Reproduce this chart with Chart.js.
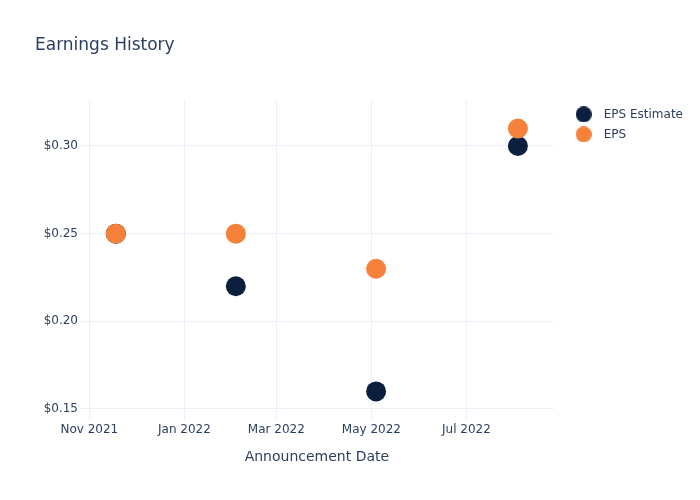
<!DOCTYPE html>
<html>
<head>
<meta charset="utf-8">
<script src="https://cdn.jsdelivr.net/npm/chart.js@4"></script>
<style>
	body { margin: 0; background: #fff; }
</style>
</head>
<body>
<canvas id="myChart" width="700" height="500"></canvas>
<script>
const dates = ["2021-11-18", "2022-02-03", "2022-05-04", "2022-08-03"];
const epsEstimate = [0.25, 0.22, 0.16, 0.30];
const eps = [0.25, 0.25, 0.23, 0.31];
const yTicks = [0.15, 0.20, 0.25, 0.30];
const xTicks = ["2021-11-01", "2022-01-01", "2022-03-01", "2022-05-01", "2022-07-01"];
const MONTHS = ["Jan", "Feb", "Mar", "Apr", "May", "Jun", "Jul", "Aug", "Sep", "Oct", "Nov", "Dec"];

const TEXT = "#2a3f5f";
const GRID = "#ebf0f8";

function ts(s) {
	return Date.parse(s + "T00:00:00Z");
}

// legend dot, a bit bigger than chart.js draws it by default
function makeDot(color) {
	const c = document.createElement("canvas");
	c.width = 16;
	c.height = 16;
	const g = c.getContext("2d");
	g.fillStyle = color;
	g.beginPath();
	g.arc(8, 8, 8, 0, Math.PI * 2);
	g.fill();
	return c;
}

// nudge the legend to the right like the original
const legendShift = {
	id: "legendShift",
	afterLayout(chart) {
		chart.legend.left += 8;
		chart.legend.right += 8;
	},
};

const ctx = document.getElementById("myChart");

const myChart = new Chart(ctx, {
	type: "scatter",
	data: {
		datasets: [
			{
				label: "EPS Estimate",
				data: dates.map((d, i) => ({ x: ts(d), y: epsEstimate[i] })),
				backgroundColor: "#0b1f3f",
				pointRadius: 10,
				pointHoverRadius: 10,
				pointBorderWidth: 0,
				order: 1,
			},
			{
				label: "EPS",
				data: dates.map((d, i) => ({ x: ts(d), y: eps[i] })),
				backgroundColor: "#f6813a",
				pointRadius: 10,
				pointHoverRadius: 10,
				pointBorderWidth: 0,
				order: 0,
			},
		],
	},
	plugins: [legendShift],
	options: {
		responsive: false,
		animation: false,
		layout: {
			padding: { left: 35, right: 15, top: 0, bottom: 20 },
		},
		plugins: {
			title: {
				display: true,
				text: "Earnings History",
				align: "start",
				color: TEXT,
				font: { family: "DejaVu Sans", size: 17, weight: "normal" },
				padding: { top: 35, bottom: 45 },
			},
			legend: {
				position: "right",
				align: "start",
				fullSize: false,
				labels: {
					usePointStyle: true,
					pointStyleWidth: 28,
					color: TEXT,
					font: { family: "DejaVu Sans", size: 12 },
					padding: 8,
					generateLabels: (chart) => {
						const items = Chart.defaults.plugins.legend.labels.generateLabels(chart);
						items.forEach((it) => {
							it.pointStyle = makeDot(chart.data.datasets[it.datasetIndex].backgroundColor);
						});
						return items;
					},
					sort: (a, b) => a.datasetIndex - b.datasetIndex,
				},
			},
			tooltip: { enabled: false },
		},
		scales: {
			x: {
				type: "linear",
				min: ts("2021-10-26"),
				max: ts("2022-08-26"),
				afterBuildTicks: (scale) => {
					scale.ticks = xTicks.map((d) => ({ value: ts(d) }));
				},
				afterFit: (scale) => {
					scale.height = 60;
				},
				ticks: {
					color: TEXT,
					font: { family: "DejaVu Sans", size: 12 },
					maxRotation: 0,
					padding: 3,
					callback: (v) => {
						const d = new Date(v);
						return MONTHS[d.getUTCMonth()] + " " + d.getUTCFullYear();
					},
				},
				grid: { color: GRID, drawTicks: false },
				border: { display: false },
				title: {
					display: true,
					text: "Announcement Date",
					color: TEXT,
					font: { family: "DejaVu Sans", size: 14 },
					padding: { top: 10, bottom: 14 },
				},
			},
			y: {
				min: 0.1437,
				max: 0.326,
				afterBuildTicks: (scale) => {
					scale.ticks = yTicks.map((v) => ({ value: v }));
				},
				afterFit: (scale) => {
					scale.width = 45;
				},
				ticks: {
					color: TEXT,
					font: { family: "DejaVu Sans", size: 12 },
					padding: 2,
					callback: (v) => "$" + v.toFixed(2),
				},
				grid: { color: GRID, drawTicks: false },
				border: { display: false },
			},
		},
	},
});
</script>
</body>
</html>
